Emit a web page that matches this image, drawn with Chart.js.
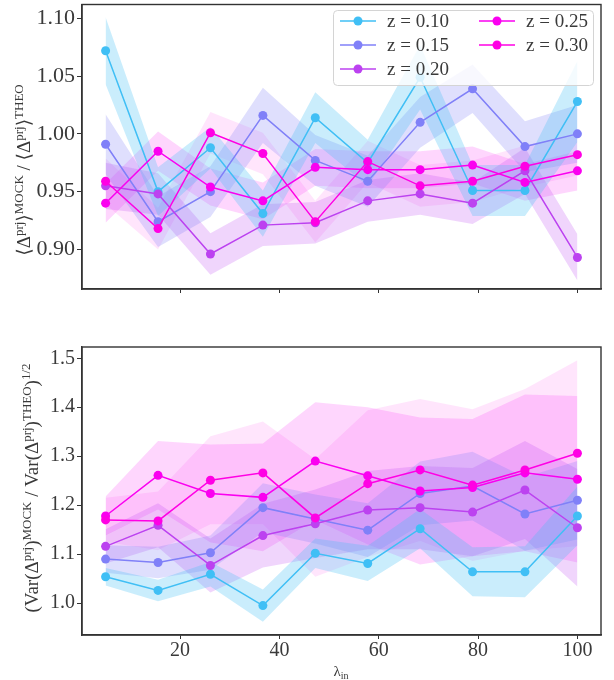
<!DOCTYPE html>
<html>
<head>
<meta charset="utf-8">
<script src="https://cdn.jsdelivr.net/npm/chart.js@4.4.0/dist/chart.umd.min.js"></script>
<style>
  html, body { margin: 0; padding: 0; background: #fff; }
  #wrap { position: relative; width: 614px; height: 680px; overflow: hidden; }
  .panel { position: absolute; left: 0; width: 614px; }
</style>
</head>
<body>
<div id="wrap">
  <div class="panel" style="top:0;height:300px"><canvas id="meanChart" width="614" height="300"></canvas></div>
  <div class="panel" style="top:300px;height:380px"><canvas id="varChart" width="614" height="380"></canvas></div>
</div>
<script>
// lambda_in sampling (x)
const lambdaIn = [5, 15.56, 26.11, 36.67, 47.22, 57.78, 68.33, 78.89, 89.44, 100];
const zLabels = ["z = 0.10", "z = 0.15", "z = 0.20", "z = 0.25", "z = 0.30"];
const xTicks = [20, 40, 60, 80, 100];
const yTicksMean = [0.90, 0.95, 1.00, 1.05, 1.10];
const yTicksVar = [1.0, 1.1, 1.2, 1.3, 1.4, 1.5];

// top panel: <D>MOCK / <D>THEO
const meanZ10 = [1.072, 0.950, 0.988, 0.931, 1.014, 0.975, 1.049, 0.951, 0.951, 1.028];
const meanZ15 = [0.991, 0.924, 0.950, 1.016, 0.977, 0.959, 1.010, 1.039, 0.989, 1.000];
const meanZ20 = [0.955, 0.948, 0.896, 0.921, 0.923, 0.942, 0.948, 0.940, 0.968, 0.893];
const meanZ25 = [0.940, 0.985, 0.954, 0.942, 0.971, 0.969, 0.969, 0.973, 0.958, 0.968];
const meanZ30 = [0.959, 0.918, 1.001, 0.983, 0.924, 0.976, 0.955, 0.959, 0.972, 0.982];
// half-width of the shaded bands (top)
const meanErrZ10 = [0.029, 0.021, 0.018, 0.020, 0.022, 0.020, 0.028, 0.022, 0.022, 0.035];
const meanErrZ15 = [0.026, 0.022, 0.022, 0.024, 0.022, 0.022, 0.022, 0.021, 0.022, 0.025];
const meanErrZ20 = [0.020, 0.018, 0.018, 0.018, 0.018, 0.018, 0.018, 0.018, 0.020, 0.020];
const meanErrZ25 = [0.017, 0.017, 0.016, 0.016, 0.016, 0.016, 0.016, 0.016, 0.016, 0.017];
const meanErrZ30 = [0.020, 0.018, 0.018, 0.018, 0.018, 0.018, 0.018, 0.018, 0.018, 0.018];

// bottom panel: (Var MOCK / Var THEO)^1/2
const varZ10 = [1.054, 1.026, 1.059, 0.995, 1.102, 1.081, 1.152, 1.064, 1.064, 1.178];
const varZ15 = [1.090, 1.083, 1.103, 1.195, 1.172, 1.149, 1.224, 1.239, 1.182, 1.210];
const varZ20 = [1.116, 1.159, 1.077, 1.138, 1.162, 1.190, 1.195, 1.186, 1.231, 1.154];
const varZ25 = [1.178, 1.261, 1.224, 1.216, 1.290, 1.260, 1.229, 1.236, 1.266, 1.253];
const varZ30 = [1.170, 1.168, 1.251, 1.266, 1.174, 1.244, 1.272, 1.241, 1.272, 1.306];
const varErrZ10 = [0.018, 0.022, 0.025, 0.033, 0.030, 0.036, 0.040, 0.050, 0.052, 0.060];
const varErrZ15 = [0.028, 0.032, 0.035, 0.050, 0.050, 0.055, 0.065, 0.070, 0.075, 0.080];
const varErrZ20 = [0.035, 0.045, 0.055, 0.065, 0.070, 0.080, 0.085, 0.090, 0.100, 0.120];
const varErrZ25 = [0.040, 0.070, 0.100, 0.110, 0.120, 0.140, 0.150, 0.140, 0.160, 0.170];
const varErrZ30 = [0.045, 0.060, 0.090, 0.105, 0.120, 0.150, 0.145, 0.155, 0.165, 0.190];

const lineColors = [[64, 191, 245], [128, 128, 248], [188, 66, 240], [250, 0, 240], [255, 0, 228]];
const bandAlpha = [0.28, 0.25, 0.22, 0.16, 0.10];
const axisColor = "#333";
const textColor = "#3a3a3a";
const serif = "'Liberation Serif', 'DejaVu Serif', serif";

function rgba(c, a) { return `rgba(${c[0]}, ${c[1]}, ${c[2]}, ${a})`; }
function pts(vals) { return lambdaIn.map((x, k) => ({ x: x, y: vals[k] })); }

function buildDatasets(series, errs) {
  const ds = [];
  series.forEach((vals, i) => {
    ds.push({ data: pts(vals.map((v, k) => v - errs[i][k])),
      borderWidth: 0, pointRadius: 0, fill: false, order: 20 });
    ds.push({ data: pts(vals.map((v, k) => v + errs[i][k])),
      borderWidth: 0, pointRadius: 0, fill: "-1", order: 20,
      backgroundColor: rgba(lineColors[i], bandAlpha[i]) });
  });
  series.forEach((vals, i) => {
    ds.push({ label: zLabels[i], data: pts(vals), order: 5 - i,
      borderColor: rgba(lineColors[i], 1), backgroundColor: rgba(lineColors[i], 1),
      borderWidth: 1.5, pointRadius: 4.5, pointBorderWidth: 0, fill: false });
  });
  return ds;
}

// text with super/subscripts: parts = [text, isScript, shift]
function drawRich(ctx, parts, x, y, rot, base, small) {
  ctx.save();
  ctx.translate(x, y);
  ctx.rotate(rot);
  ctx.fillStyle = textColor;
  ctx.textBaseline = "alphabetic";
  let total = 0;
  parts.forEach(p => {
    ctx.font = (p[1] ? small : base) + "px " + serif;
    total += ctx.measureText(p[0]).width;
  });
  let cx = -total / 2;
  parts.forEach(p => {
    ctx.font = (p[1] ? small : base) + "px " + serif;
    ctx.fillText(p[0], cx, p[2]);
    cx += ctx.measureText(p[0]).width;
  });
  ctx.restore();
}

// axis titles per canvas (drawn by the frame plugin)
const axisTitles = {
  meanChart: ctx => drawRich(ctx, [["⟨Δ", 0, 0], ["prj", 1, -7], ["⟩", 0, 0], ["MOCK", 1, -7],
    [" / ⟨Δ", 0, 0], ["prj", 1, -7], ["⟩", 0, 0], ["THEO", 1, -7]],
    30, 170, -Math.PI / 2, 19, 13),
  varChart: ctx => {
    drawRich(ctx, [["(Var(Δ", 0, 0], ["prj", 1, -7], [")", 0, 0], ["MOCK", 1, -7],
      [" / Var(Δ", 0, 0], ["prj", 1, -7], [")", 0, 0], ["THEO", 1, -7], [")", 0, 0], ["1/2", 1, -8]],
      38, 188, -Math.PI / 2, 19, 13);
    drawRich(ctx, [["λ", 0, 0], ["in", 1, 3]], 341, 376, 0, 15, 10);
  }
};

// axes frame like matplotlib spines
const framePlugin = {
  id: "frame",
  afterDraw(chart) {
    const a = chart.chartArea, ctx = chart.ctx;
    ctx.save();
    ctx.strokeStyle = axisColor;
    ctx.lineWidth = 1.4;
    ctx.strokeRect(a.left, a.top, a.right - a.left, a.bottom - a.top);
    ctx.restore();
    const t = axisTitles[chart.canvas.id];
    if (t) t(ctx);
  }
};

// two-column legend inside the top axes
const legendPlugin = {
  id: "zlegend",
  afterDraw(chart) {
    const ctx = chart.ctx;
    ctx.save();
    ctx.beginPath();
    ctx.roundRect(333.5, 10.5, 260, 75, 4);
    ctx.fillStyle = "rgba(255,255,255,0.8)";
    ctx.fill();
    ctx.strokeStyle = "#d4d4d4";
    ctx.lineWidth = 1;
    ctx.stroke();
    const colX = [340, 479], rowY = [21, 45, 69];
    ctx.font = "19px " + serif;
    ctx.textBaseline = "middle";
    zLabels.forEach((lab, i) => {
      const x = colX[i < 3 ? 0 : 1], y = rowY[i < 3 ? i : i - 3];
      const c = rgba(lineColors[i], 1);
      ctx.strokeStyle = c;
      ctx.lineWidth = 1.5;
      ctx.beginPath(); ctx.moveTo(x, y); ctx.lineTo(x + 36, y); ctx.stroke();
      ctx.fillStyle = c;
      ctx.beginPath(); ctx.arc(x + 18, y, 4.5, 0, Math.PI * 2); ctx.fill();
      ctx.fillStyle = textColor;
      ctx.fillText(lab, x + 47, y + 1);
    });
    ctx.restore();
  }
};

function makeChart(id, series, errs, yTicks, yMin, yMax, opts) {
  return new Chart(document.getElementById(id).getContext("2d"), {
    type: "line",
    data: { datasets: buildDatasets(series, errs) },
    options: {
      responsive: false,
      animation: false,
      layout: { padding: { top: opts.padTop, right: 13, left: 0, bottom: 0 } },
      plugins: {
        legend: { display: false },
        tooltip: { enabled: false },
        filler: { drawTime: "beforeDatasetsDraw", propagate: false }
      },
      scales: {
        x: {
          type: "linear", min: 0.25, max: 104.75,
          afterBuildTicks: s => { s.ticks = xTicks.map(v => ({ value: v })); },
          afterFit: s => { s.height = opts.xHeight; s.paddingLeft = 0; s.paddingRight = 0; },
          ticks: { display: opts.xLabels, color: textColor, padding: 0, maxRotation: 0,
            font: { family: serif, size: 20 } },
          grid: { display: true, drawOnChartArea: false, drawTicks: true,
            tickLength: 4, tickColor: axisColor, tickWidth: 1 },
          border: { display: true, color: axisColor, width: 1.4 }
        },
        y: {
          min: yMin, max: yMax,
          afterBuildTicks: s => { s.ticks = yTicks.map(v => ({ value: v })); },
          afterFit: s => { s.width = 82; s.paddingTop = 0; s.paddingBottom = 0; },
          ticks: { color: textColor, padding: 2, font: { family: serif, size: opts.yFont },
            callback: v => v.toFixed(opts.dec) },
          grid: { display: true, drawOnChartArea: false, drawTicks: true,
            tickLength: 5, tickColor: axisColor, tickWidth: 1 },
          border: { display: true, color: axisColor, width: 1.4 }
        }
      }
    },
    plugins: opts.legend ? [framePlugin, legendPlugin] : [framePlugin]
  });
}

makeChart("meanChart",
  [meanZ10, meanZ15, meanZ20, meanZ25, meanZ30],
  [meanErrZ10, meanErrZ15, meanErrZ20, meanErrZ25, meanErrZ30],
  yTicksMean, 0.8657, 1.112,
  { padTop: 2, xHeight: 11, xLabels: false, yFont: 22, dec: 2, legend: true });

makeChart("varChart",
  [varZ10, varZ15, varZ20, varZ25, varZ30],
  [varErrZ10, varErrZ15, varErrZ20, varErrZ25, varErrZ30],
  yTicksVar, 0.935, 1.523,
  { padTop: 47, xHeight: 45, xLabels: true, yFont: 20, dec: 1, legend: false });
</script>
</body>
</html>
